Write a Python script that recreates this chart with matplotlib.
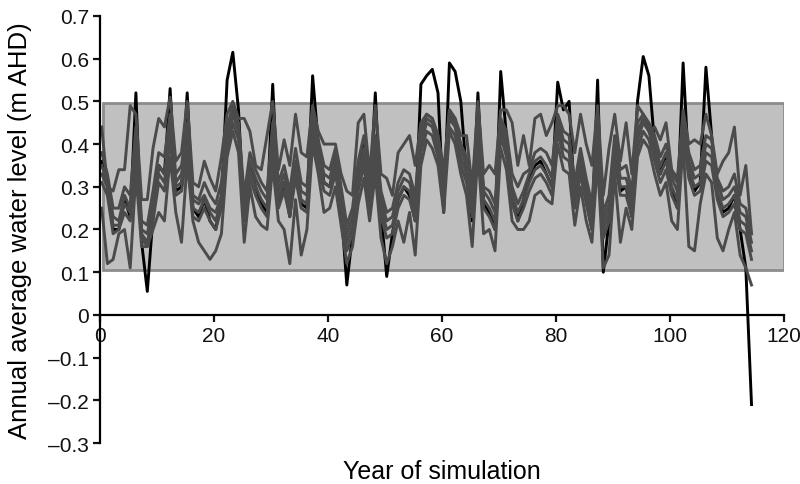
import numpy as np
import matplotlib
matplotlib.use("Agg")
import matplotlib.pyplot as plt
from matplotlib.patches import Rectangle

# ---------------- data ----------------
years = list(range(115))

black_run = [0.36,0.30,0.20,0.20,0.27,0.23,0.52,0.17,0.055,0.23,0.35,0.33,0.53,0.29,0.30,0.52,0.25,0.23,0.27,0.22,
             0.20,0.27,0.55,0.615,0.48,0.22,0.35,0.30,0.26,0.24,0.54,0.26,0.31,0.23,0.35,0.26,0.25,0.56,0.40,0.31,
             0.30,0.36,0.25,0.07,0.19,0.32,0.40,0.26,0.52,0.24,0.09,0.19,0.27,0.30,0.28,0.22,0.54,0.56,0.575,0.52,
             0.24,0.59,0.57,0.50,0.33,0.22,0.52,0.26,0.24,0.20,0.57,0.42,0.28,0.22,0.27,0.32,0.35,0.36,0.33,0.30,
             0.545,0.48,0.50,0.26,0.36,0.27,0.20,0.55,0.10,0.22,0.40,0.29,0.30,0.23,0.50,0.605,0.56,0.40,0.33,0.37,
             0.29,0.25,0.59,0.34,0.29,0.31,0.58,0.42,0.28,0.24,0.25,0.28,0.20,0.11,-0.21]

upper_run = [0.44,0.30,0.29,0.34,0.34,0.49,0.47,0.27,0.27,0.39,0.46,0.44,0.51,0.36,0.38,0.50,0.31,0.30,0.36,0.32,
             0.29,0.37,0.47,0.50,0.46,0.46,0.43,0.35,0.34,0.42,0.50,0.34,0.41,0.35,0.47,0.38,0.37,0.49,0.43,0.40,
             0.40,0.40,0.33,0.29,0.28,0.45,0.47,0.33,0.49,0.33,0.32,0.28,0.38,0.40,0.42,0.35,0.45,0.47,0.46,0.42,
             0.31,0.48,0.46,0.42,0.42,0.30,0.50,0.33,0.35,0.33,0.48,0.48,0.45,0.35,0.42,0.35,0.46,0.47,0.42,0.45,
             0.49,0.49,0.47,0.38,0.47,0.40,0.35,0.49,0.28,0.39,0.47,0.36,0.45,0.33,0.49,0.47,0.43,0.44,0.41,0.45,
             0.34,0.32,0.48,0.40,0.41,0.40,0.47,0.42,0.33,0.36,0.38,0.44,0.28,0.35,0.19]

lower_run = [0.25,0.12,0.13,0.19,0.20,0.11,0.33,0.16,0.16,0.20,0.24,0.22,0.37,0.24,0.17,0.36,0.22,0.17,0.15,0.13,
             0.15,0.19,0.37,0.43,0.38,0.17,0.30,0.23,0.21,0.20,0.35,0.22,0.20,0.12,0.27,0.14,0.20,0.40,0.33,0.24,
             0.25,0.30,0.21,0.12,0.16,0.26,0.32,0.22,0.33,0.18,0.12,0.16,0.22,0.17,0.24,0.14,0.35,0.41,0.39,0.35,
             0.24,0.43,0.40,0.33,0.28,0.16,0.38,0.19,0.20,0.15,0.39,0.34,0.22,0.20,0.20,0.22,0.28,0.29,0.27,0.26,
             0.40,0.34,0.33,0.21,0.30,0.22,0.17,0.36,0.11,0.14,0.33,0.17,0.25,0.20,0.37,0.41,0.39,0.33,0.28,0.31,
             0.22,0.20,0.40,0.16,0.15,0.26,0.33,0.31,0.18,0.15,0.20,0.24,0.14,0.11,0.07]

core_a = [0.33,0.30,0.21,0.21,0.26,0.24,0.38,0.19,0.17,0.24,0.33,0.31,0.43,0.30,0.31,0.40,0.25,0.24,0.27,0.24,
          0.22,0.27,0.40,0.47,0.43,0.24,0.34,0.30,0.27,0.25,0.41,0.27,0.31,0.25,0.34,0.27,0.26,0.44,0.37,0.31,
          0.30,0.35,0.27,0.17,0.21,0.31,0.37,0.27,0.37,0.25,0.20,0.21,0.27,0.30,0.29,0.24,0.40,0.45,0.44,0.39,
          0.30,0.46,0.44,0.37,0.33,0.25,0.43,0.27,0.25,0.22,0.44,0.39,0.28,0.24,0.27,0.31,0.34,0.35,0.33,0.30,
          0.45,0.39,0.38,0.27,0.35,0.28,0.22,0.41,0.20,0.24,0.38,0.30,0.30,0.25,0.41,0.45,0.43,0.38,0.33,0.36,
          0.30,0.27,0.44,0.34,0.30,0.31,0.38,0.37,0.29,0.25,0.26,0.28,0.22,0.21,0.15]

core_b = [0.35,0.31,0.23,0.22,0.28,0.25,0.40,0.20,0.19,0.26,0.35,0.33,0.45,0.31,0.33,0.42,0.27,0.26,0.28,0.25,
          0.24,0.28,0.42,0.48,0.44,0.26,0.36,0.32,0.29,0.27,0.43,0.29,0.33,0.27,0.36,0.29,0.28,0.45,0.39,0.33,
          0.32,0.37,0.29,0.19,0.23,0.33,0.39,0.29,0.39,0.27,0.22,0.23,0.29,0.32,0.31,0.26,0.42,0.46,0.45,0.41,
          0.32,0.47,0.45,0.39,0.35,0.27,0.45,0.29,0.27,0.24,0.45,0.41,0.30,0.26,0.29,0.33,0.36,0.37,0.35,0.32,
          0.46,0.41,0.40,0.29,0.37,0.30,0.24,0.43,0.22,0.26,0.40,0.32,0.32,0.27,0.43,0.46,0.44,0.40,0.35,0.38,
          0.32,0.29,0.45,0.36,0.32,0.33,0.40,0.39,0.31,0.27,0.28,0.30,0.24,0.23,0.17]

core_c = [0.31,0.28,0.19,0.20,0.24,0.22,0.36,0.18,0.16,0.22,0.31,0.29,0.41,0.28,0.29,0.38,0.23,0.22,0.25,0.22,
          0.20,0.25,0.38,0.45,0.41,0.22,0.32,0.28,0.25,0.23,0.39,0.25,0.29,0.23,0.32,0.25,0.24,0.42,0.35,0.29,
          0.28,0.33,0.25,0.15,0.19,0.29,0.35,0.25,0.35,0.23,0.18,0.19,0.25,0.28,0.27,0.22,0.38,0.43,0.42,0.37,
          0.28,0.44,0.42,0.35,0.31,0.23,0.41,0.25,0.23,0.20,0.42,0.37,0.26,0.22,0.25,0.29,0.32,0.33,0.31,0.28,
          0.43,0.37,0.36,0.25,0.33,0.26,0.20,0.39,0.18,0.22,0.36,0.28,0.28,0.23,0.39,0.43,0.41,0.36,0.31,0.34,
          0.28,0.25,0.42,0.32,0.28,0.29,0.36,0.35,0.27,0.23,0.24,0.26,0.20,0.19,0.13]

core_d = [0.38,0.33,0.25,0.25,0.30,0.28,0.44,0.22,0.21,0.29,0.38,0.37,0.47,0.33,0.35,0.45,0.28,0.27,0.31,0.28,
          0.26,0.31,0.44,0.49,0.45,0.28,0.38,0.34,0.31,0.29,0.45,0.31,0.35,0.29,0.39,0.31,0.30,0.47,0.41,0.35,
          0.34,0.39,0.30,0.21,0.25,0.36,0.42,0.31,0.42,0.29,0.24,0.25,0.31,0.34,0.33,0.28,0.43,0.47,0.46,0.42,
          0.34,0.48,0.46,0.40,0.37,0.29,0.46,0.30,0.29,0.26,0.46,0.43,0.33,0.30,0.33,0.34,0.38,0.39,0.38,0.35,
          0.47,0.43,0.42,0.31,0.39,0.32,0.26,0.45,0.24,0.28,0.42,0.34,0.35,0.29,0.45,0.47,0.45,0.42,0.37,0.40,
          0.33,0.31,0.46,0.38,0.34,0.35,0.42,0.41,0.32,0.29,0.30,0.33,0.26,0.25,0.19]

band_low, band_high = 0.105, 0.496
x_ticks = [0, 20, 40, 60, 80, 100, 120]
y_ticks = [-0.3, -0.2, -0.1, 0, 0.1, 0.2, 0.3, 0.4, 0.5, 0.6, 0.7]

# ---------------- style ----------------
plt.rcParams["font.family"] = ["Liberation Sans", "DejaVu Sans"]

fig = plt.figure(figsize=(8, 4.85), dpi=100)
ax = fig.add_axes([0.125, 0.0845, 0.855, 0.8805])
ax.set_xlim(0, 120)
ax.set_ylim(-0.3, 0.7)

ax.add_patch(Rectangle((0.6, band_low), 119.4, band_high - band_low,
                       facecolor="#c0c0c0", edgecolor="#8c8c8c", lw=2, zorder=1))

off = 0.3
def xs(s):
    return np.asarray(years[:len(s)]) + off

ax.plot(xs(black_run), black_run, color="#000000", lw=2.1, zorder=2)
for s in [upper_run, lower_run, core_d, core_b, core_a, core_c]:
    ax.plot(xs(s), s, color="#4b4b4b", lw=2.1, zorder=3)

for side in ["top", "right"]:
    ax.spines[side].set_visible(False)
ax.spines["left"].set_position(("data", 0))
ax.spines["bottom"].set_position(("data", 0))
for side in ["left", "bottom"]:
    ax.spines[side].set_linewidth(1.6)
    ax.spines[side].set_zorder(5)

ax.set_xticks(x_ticks)
ax.set_xticklabels([str(v) for v in x_ticks])
ax.set_yticks(y_ticks)
ax.set_yticklabels([("\u2013" + f"{abs(v):g}") if v < 0 else f"{v:g}" for v in y_ticks])
ax.tick_params(axis="both", direction="out", length=5, width=1.6, labelsize=15, pad=3, colors="#111111")

ax.set_xlabel("Year of simulation", fontsize=18, labelpad=0)
ax.xaxis.set_label_coords(0.5, -0.038)
ax.set_ylabel("Annual average water level (m AHD)", fontsize=18.5)
ax.yaxis.set_label_coords(-0.099, 0.5)

fig.savefig("out.png", dpi=100)
